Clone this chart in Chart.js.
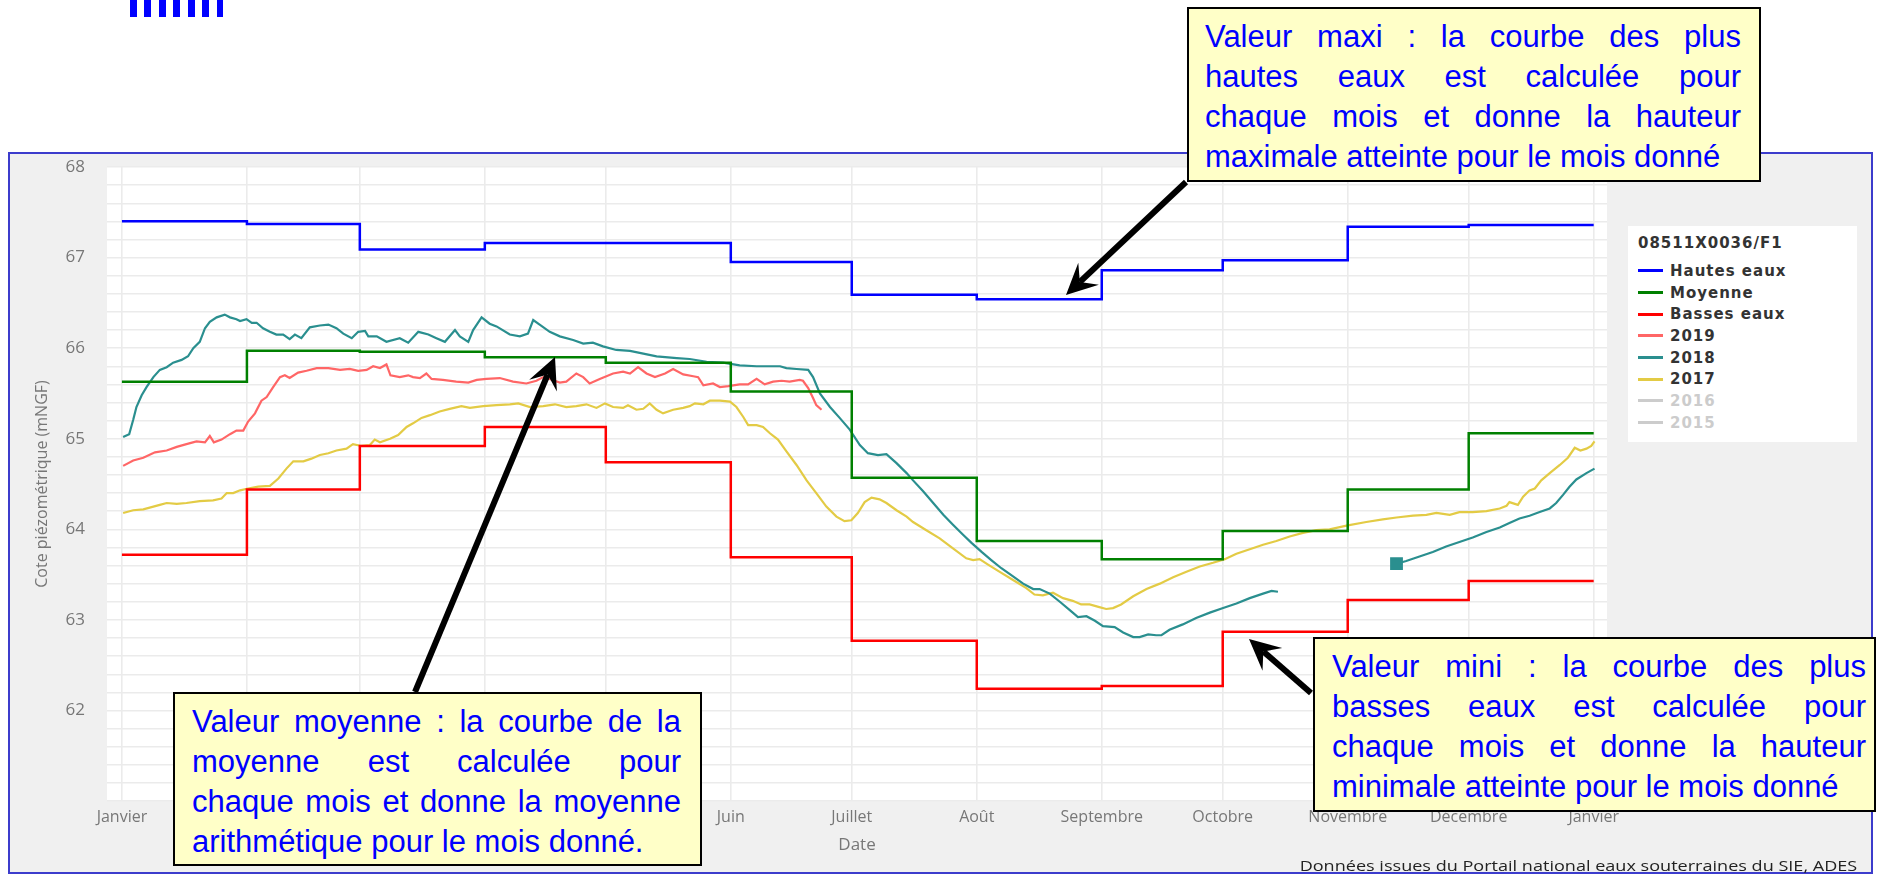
<!DOCTYPE html>
<html>
<head>
<meta charset="utf-8">
<title>Cote piézométrique 08511X0036/F1</title>
<script src="https://cdn.jsdelivr.net/npm/chart.js@4.4.0/dist/chart.umd.min.js"></script>
<style>
html, body { margin: 0; padding: 0; background: #fff; width: 1883px; height: 874px; overflow: hidden; position: relative; font-family: 'Open Sans', sans-serif; }
#topmark { position: absolute; left: 130px; top: 0; width: 94px; height: 17px;
  background: repeating-linear-gradient(90deg, #0000ff 0 6.7px, transparent 6.7px 14.45px); }
#frame { position: absolute; left: 8px; top: 152px; width: 1865px; height: 722px; box-sizing: border-box;
  border: 2px solid #3c3ccc; background: #f0f0f0; }
#chart { position: absolute; left: 0; top: 0; }
#legend { position: absolute; left: 1628px; top: 226px; width: 229px; height: 216px; background: #fff;
  box-sizing: border-box; padding: 8px 0 0 10px; font-family: 'DejaVu Sans', sans-serif; font-weight: bold;
  font-size: 15px; letter-spacing: 1px; color: #333; }
#legend .title { height: 18px; line-height: 18px; margin-bottom: 8px; }
#legend .item { height: 21.7px; display: flex; align-items: center; }
#legend .swatch { width: 25px; height: 3px; margin-right: 7px; }
#source { position: absolute; right: 26px; top: 857px; font-size: 14px; line-height: 18px; color: #222; white-space: nowrap;
  transform: scaleX(1.29); transform-origin: right center; }
#arrows { position: absolute; left: 0; top: 0; }
.note { position: absolute; box-sizing: border-box; border: 2px solid #000; background: #ffffc8; color: #0000ff;
  font-family: 'Liberation Sans', Arial, sans-serif; font-size: 31px; line-height: 40px; padding-top: 8px; }
.note div { text-align: justify; text-align-last: justify; white-space: nowrap; }
.note div:last-child { text-align: left; text-align-last: left; }
</style>
</head>
<body>
<div id="topmark"></div>
<div id="frame"></div>
<canvas id="chart" width="1883" height="874"></canvas>
<div id="legend"><div class="title">08511X0036/F1</div></div>
<div id="source">Données issues du Portail national eaux souterraines du SIE, ADES</div>

<svg id="arrows" width="1883" height="874"></svg>

<div class="note" style="left:1187px; top:7px; width:574px; height:175px; padding-left:16px; padding-right:18px;">
  <div>Valeur maxi : la courbe des plus</div>
  <div>hautes eaux est calculée pour</div>
  <div>chaque mois et donne la hauteur</div>
  <div>maximale atteinte pour le mois donné</div>
</div>
<div class="note" style="left:173px; top:692px; width:529px; height:174px; padding-left:17px; padding-right:19px;">
  <div>Valeur moyenne : la courbe de la</div>
  <div>moyenne est calculée pour</div>
  <div>chaque mois et donne la moyenne</div>
  <div>arithmétique pour le mois donné.</div>
</div>
<div class="note" style="left:1313px; top:637px; width:563px; height:175px; padding-left:17px; padding-right:8px;">
  <div>Valeur mini : la courbe des plus</div>
  <div>basses eaux est calculée pour</div>
  <div>chaque mois et donne la hauteur</div>
  <div>minimale atteinte pour le mois donné</div>
</div>

<script>
// mois (jours depuis le 1er janvier)
const monthLabels = ['Janvier', 'Février', 'Mars', 'Avril', 'Mai', 'Juin', 'Juillet', 'Août', 'Septembre', 'Octobre', 'Novembre', 'Décembre', 'Janvier'];
const monthStartDays = [0, 31, 59, 90, 120, 151, 181, 212, 243, 273, 304, 334, 365];

// valeurs mensuelles (mNGF)
const hautesEaux = [67.40, 67.37, 67.09, 67.16, 67.16, 66.95, 66.59, 66.54, 66.86, 66.97, 67.34, 67.36];
const moyenne    = [65.63, 65.97, 65.96, 65.90, 65.84, 65.52, 64.57, 63.87, 63.67, 63.98, 64.44, 65.06];
const bassesEaux = [63.72, 64.44, 64.92, 65.13, 64.74, 63.69, 62.77, 62.24, 62.27, 62.87, 63.22, 63.43];

// chroniques journalieres
const days2019 = [0.3, 2.8, 5.3, 8.2, 11.1, 13.6, 16.0, 18.5, 20.6, 21.8, 22.8, 24.7, 26.8, 28.4, 30.1, 31.3, 33.0, 34.6, 35.9, 37.5,
  39.2, 40.4, 41.6, 43.7, 45.8, 48.3, 51.2, 54.1, 56.5, 58.6, 60.7, 62.3, 64.0, 65.6, 66.6, 68.9, 71.0, 72.2, 73.9, 75.5,
  76.8, 79.6, 82.9, 85.9, 88.0, 90.4, 93.7, 97.0, 100.3, 102.8, 104.5, 106.1, 108.6, 110.2, 112.7, 114.4, 116.0, 118.5, 121.8, 124.3,
  126.0, 128.0, 130.1, 132.2, 134.7, 136.7, 139.2, 141.7, 142.9, 144.2, 146.6, 148.3, 150.4, 153.2, 155.3, 157.4, 159.4, 161.5, 163.6, 165.6,
  168.1, 168.9, 170.2, 171.4, 172.2, 173.5];
const cote2019 = [64.70, 64.76, 64.79, 64.85, 64.87, 64.91, 64.94, 64.97, 64.96, 65.03, 64.96, 64.99, 65.05, 65.09, 65.09, 65.19, 65.28, 65.42, 65.46, 65.57,
  65.68, 65.70, 65.67, 65.73, 65.75, 65.78, 65.78, 65.76, 65.77, 65.75, 65.76, 65.80, 65.78, 65.82, 65.70, 65.68, 65.70, 65.68, 65.67, 65.72,
  65.66, 65.65, 65.63, 65.62, 65.65, 65.66, 65.67, 65.63, 65.61, 65.64, 65.68, 65.66, 65.62, 65.63, 65.72, 65.68, 65.61, 65.66, 65.72, 65.74,
  65.72, 65.79, 65.72, 65.68, 65.72, 65.77, 65.71, 65.69, 65.68, 65.59, 65.61, 65.57, 65.58, 65.60, 65.60, 65.66, 65.60, 65.63, 65.64, 65.63,
  65.65, 65.64, 65.56, 65.45, 65.37, 65.32];

const days2018 = [0.3, 1.8, 2.8, 3.6, 4.9, 6.1, 7.8, 9.4, 11.1, 12.7, 14.8, 16.4, 17.7, 19.3, 20.6, 21.8, 23.5, 25.5, 26.8, 28.4,
  29.3, 30.9, 32.2, 33.4, 35.0, 36.7, 38.3, 40.0, 41.6, 42.9, 44.5, 46.6, 49.1, 51.2, 53.2, 54.9, 57.0, 58.6, 60.3, 61.1,
  63.2, 65.6, 68.9, 71.0, 73.5, 76.0, 78.0, 80.1, 82.6, 83.8, 85.9, 87.1, 89.2, 91.2, 92.9, 96.2, 98.7, 100.7, 102.0, 103.6,
  106.1, 108.6, 111.9, 114.4, 116.8, 119.3, 122.6, 126.0, 129.3, 132.6, 137.6, 140.8, 145.0, 149.1, 153.2, 157.4, 160.7, 163.2, 164.8, 167.3,
  170.2, 171.4, 173.1, 175.6, 178.0, 180.5, 183.0, 185.0, 187.5, 189.6, 192.1, 194.6, 196.2, 198.7, 201.2, 203.7, 206.1, 208.6, 210.7, 213.2,
  215.6, 218.1, 221.0, 223.5, 226.0, 227.6, 230.1, 232.6, 235.0, 237.1, 239.2, 241.3, 243.3, 246.2, 248.3, 250.8, 252.4, 254.5, 256.5, 257.8,
  259.8, 263.1, 266.4, 269.8, 273.1, 276.4, 279.7, 283.0, 285.1, 286.7, 300.0,
  316.1, 318.5, 321.8, 325.1, 328.4, 331.7, 335.0, 338.4, 341.7, 344.1, 346.6, 349.1, 351.6, 354.1, 355.7, 357.4, 359.0, 360.7, 363.2, 365.2];
const cote2018 = [65.02, 65.05, 65.21, 65.35, 65.48, 65.57, 65.68, 65.76, 65.79, 65.84, 65.87, 65.91, 66.00, 66.07, 66.22, 66.29, 66.34, 66.37, 66.34, 66.32,
  66.30, 66.32, 66.28, 66.28, 66.22, 66.18, 66.15, 66.15, 66.10, 66.15, 66.11, 66.23, 66.25, 66.26, 66.22, 66.16, 66.11, 66.18, 66.19, 66.13,
  66.13, 66.07, 66.11, 66.06, 66.18, 66.15, 66.11, 66.07, 66.20, 66.13, 66.07, 66.20, 66.34, 66.27, 66.24, 66.15, 66.13, 66.16, 66.31, 66.26,
  66.18, 66.13, 66.09, 66.05, 66.06, 66.02, 65.98, 65.97, 65.94, 65.91, 65.89, 65.88, 65.85, 65.84, 65.81, 65.80, 65.80, 65.80, 65.78, 65.77,
  65.76, 65.68, 65.50, 65.35, 65.23, 65.10, 64.93, 64.84, 64.82, 64.83, 64.73, 64.62, 64.54, 64.42, 64.29, 64.16, 64.05, 63.94, 63.85, 63.75,
  63.66, 63.57, 63.48, 63.40, 63.34, 63.34, 63.29, 63.20, 63.11, 63.03, 63.04, 62.99, 62.93, 62.92, 62.86, 62.81, 62.81, 62.84, 62.83, 62.83,
  62.89, 62.95, 63.02, 63.08, 63.13, 63.18, 63.24, 63.29, 63.32, 63.31, null,
  63.62, 63.65, 63.70, 63.75, 63.81, 63.86, 63.91, 63.97, 64.02, 64.07, 64.12, 64.15, 64.19, 64.23, 64.29, 64.38, 64.47, 64.55, 64.62, 64.67];

const days2017 = [0.3, 2.8, 5.3, 7.8, 9.4, 11.1, 13.6, 16.0, 19.3, 22.6, 24.7, 26.0, 27.6, 29.3, 31.3, 33.8, 36.7, 38.8, 40.8, 42.5,
  45.0, 47.0, 49.1, 51.2, 53.2, 55.7, 57.3, 59.4, 61.5, 62.7, 64.0, 66.5, 68.5, 70.6, 72.2, 74.3, 76.4, 78.8, 81.3, 84.2,
  86.3, 89.6, 92.9, 96.2, 98.3, 101.2, 104.5, 107.4, 110.2, 112.7, 115.2, 117.7, 119.8, 121.8, 124.3, 125.5, 127.6, 129.3, 130.9, 132.6,
  134.2, 136.7, 139.2, 140.8, 142.1, 144.2, 145.8, 148.3, 150.8, 152.4, 154.1, 155.3, 157.4, 159.0, 160.7, 162.7, 164.8, 167.3, 169.8, 172.2,
  174.7, 177.2, 179.2, 180.9, 182.5, 184.2, 185.9, 187.9, 189.6, 192.1, 194.6, 196.2, 199.5, 202.8, 206.1, 209.4, 211.1, 212.7, 214.8, 217.7,
  221.0, 224.3, 226.3, 228.4, 230.9, 233.4, 235.8, 237.9, 240.0, 242.4, 244.1, 245.8, 247.8, 250.8, 254.1, 257.4, 260.7, 264.0, 267.3, 270.6,
  273.5, 276.4, 279.7, 283.0, 286.3, 289.6, 292.9, 296.2, 299.5, 303.7, 308.6, 312.7, 316.1, 320.2, 323.5, 326.0, 329.3, 331.7, 335.0, 338.4,
  341.7, 343.4, 344.1, 346.2, 347.5, 349.1, 350.4, 352.0, 354.1, 356.6, 358.6, 360.3, 361.7, 363.2, 364.4, 365.2];
const cote2017 = [64.18, 64.21, 64.22, 64.25, 64.27, 64.29, 64.28, 64.29, 64.31, 64.32, 64.34, 64.40, 64.40, 64.43, 64.45, 64.47, 64.48, 64.56, 64.67, 64.75,
  64.75, 64.78, 64.82, 64.84, 64.87, 64.89, 64.94, 64.92, 64.93, 64.99, 64.96, 65.00, 65.04, 65.13, 65.17, 65.23, 65.26, 65.30, 65.33, 65.36,
  65.34, 65.36, 65.37, 65.38, 65.39, 65.35, 65.36, 65.38, 65.35, 65.36, 65.38, 65.34, 65.39, 65.35, 65.34, 65.37, 65.32, 65.33, 65.39, 65.32,
  65.28, 65.32, 65.34, 65.36, 65.39, 65.38, 65.42, 65.42, 65.41, 65.35, 65.24, 65.15, 65.15, 65.13, 65.06, 64.99, 64.86, 64.71, 64.54, 64.40,
  64.25, 64.14, 64.09, 64.10, 64.18, 64.30, 64.35, 64.33, 64.29, 64.21, 64.14, 64.08, 63.99, 63.90, 63.79, 63.68, 63.66, 63.67, 63.61, 63.53,
  63.44, 63.35, 63.28, 63.27, 63.30, 63.24, 63.21, 63.17, 63.17, 63.14, 63.12, 63.13, 63.17, 63.26, 63.34, 63.40, 63.47, 63.53, 63.59, 63.63,
  63.67, 63.73, 63.78, 63.83, 63.87, 63.92, 63.96, 63.99, 64.00, 64.04, 64.08, 64.11, 64.13, 64.15, 64.16, 64.18, 64.16, 64.19, 64.19, 64.20,
  64.23, 64.26, 64.30, 64.27, 64.36, 64.43, 64.45, 64.54, 64.62, 64.71, 64.79, 64.90, 64.87, 64.89, 64.92, 64.97];

function stepPoints(vals) {
  return monthStartDays.map((d, i) => ({ x: d, y: vals[Math.min(i, vals.length - 1)] }));
}
function curvePoints(days, vals) {
  return days.map((d, i) => ({ x: d, y: vals[i] }));
}

Chart.defaults.font.family = "'Open Sans', sans-serif";
Chart.defaults.color = '#777';

const whitePanel = {
  id: 'whitePanel',
  beforeDraw(chart) {
    const a = chart.chartArea;
    chart.ctx.save();
    chart.ctx.fillStyle = '#ffffff';
    chart.ctx.fillRect(a.left, a.top, a.right - a.left, a.bottom - a.top);
    chart.ctx.restore();
  }
};

const chart = new Chart(document.getElementById('chart').getContext('2d'), {
  type: 'line',
  data: {
    datasets: [
      { label: 'Hautes eaux', data: stepPoints(hautesEaux), borderColor: '#0000ff', borderWidth: 2.5, stepped: 'before', pointRadius: 0 },
      { label: 'Moyenne', data: stepPoints(moyenne), borderColor: '#008000', borderWidth: 2.5, stepped: 'before', pointRadius: 0 },
      { label: 'Basses eaux', data: stepPoints(bassesEaux), borderColor: '#ff0000', borderWidth: 2.5, stepped: 'before', pointRadius: 0 },
      { label: '2019', data: curvePoints(days2019, cote2019), borderColor: '#ff6666', borderWidth: 2.2, pointRadius: 0 },
      { label: '2018', data: curvePoints(days2018, cote2018), borderColor: '#2a8f8f', backgroundColor: '#2a8f8f', borderWidth: 2.2,
        pointStyle: 'rect', pointBackgroundColor: '#2a8f8f', pointBorderColor: '#2a8f8f',
        pointRadius: c => (c.dataIndex > 0 && cote2018[c.dataIndex - 1] === null) ? 7.5 : 0 },
      { label: '2017', data: curvePoints(days2017, cote2017), borderColor: '#e3cb45', borderWidth: 2.2, pointRadius: 0 },
      { label: '2016', data: [], borderColor: '#cccccc', hidden: true, pointRadius: 0 },
      { label: '2015', data: [], borderColor: '#cccccc', hidden: true, pointRadius: 0 }
    ]
  },
  options: {
    responsive: false,
    animation: false,
    layout: { padding: { top: 167, right: 276, bottom: 0, left: 0 } },
    plugins: { legend: { display: false }, tooltip: { enabled: false } },
    scales: {
      x: {
        type: 'linear', min: -3.7, max: 368.3,
        afterBuildTicks: s => { s.ticks = monthStartDays.map(v => ({ value: v })); },
        afterFit: s => { s.height = 73; },
        ticks: { autoSkip: false, maxRotation: 0, padding: 7, color: '#777', font: { size: 16 },
          callback: (v, i) => monthLabels[i] },
        grid: { color: '#ebebeb', lineWidth: 1.6, drawTicks: false },
        border: { display: false },
        title: { display: true, text: 'Date', color: '#777', font: { size: 17 }, padding: { top: 0, bottom: 19 } }
      },
      y: {
        min: 61, max: 68,
        afterFit: s => { s.width = 107; },
        ticks: { stepSize: 0.2, autoSkip: false, padding: 22, color: '#777', font: { size: 17 },
          callback: v => (Math.abs(v - Math.round(v)) < 1e-6 && v > 61.5) ? String(Math.round(v)) : '' },
        grid: { color: '#ebebeb', lineWidth: 1.4, drawTicks: false },
        border: { display: false },
        title: { display: true, text: 'Cote piézométrique (mNGF)', color: '#777', font: { size: 16 }, padding: { top: 33, bottom: 0 } }
      }
    }
  },
  plugins: [whitePanel]
});

// legende construite a partir des jeux de donnees
const legendBox = document.getElementById('legend');
chart.data.datasets.forEach(ds => {
  const row = document.createElement('div');
  row.className = 'item';
  const sw = document.createElement('span');
  sw.className = 'swatch';
  sw.style.background = ds.hidden ? '#cccccc' : ds.borderColor;
  row.appendChild(sw);
  row.appendChild(document.createTextNode(ds.label));
  if (ds.hidden) row.style.color = '#cccccc';
  legendBox.appendChild(row);
});

// fleches des annotations
const arrows = [
  { from: [1186, 182], to: [1066, 295] },
  { from: [415, 692], to: [555, 357] },
  { from: [1311, 693], to: [1249, 639] }
];
const svg = document.getElementById('arrows');
arrows.forEach(a => {
  const dx = a.to[0] - a.from[0], dy = a.to[1] - a.from[1];
  const len = Math.hypot(dx, dy);
  const ux = dx / len, uy = dy / len, nx = -uy, ny = ux;
  const L = 31, W = 15, N = 19;
  const t = a.to;
  const line = document.createElementNS('http://www.w3.org/2000/svg', 'line');
  line.setAttribute('x1', a.from[0]); line.setAttribute('y1', a.from[1]);
  line.setAttribute('x2', t[0] - N * ux); line.setAttribute('y2', t[1] - N * uy);
  line.setAttribute('stroke', '#000'); line.setAttribute('stroke-width', 6);
  svg.appendChild(line);
  const head = document.createElementNS('http://www.w3.org/2000/svg', 'polygon');
  const pts = [
    [t[0], t[1]],
    [t[0] - L * ux + W * nx, t[1] - L * uy + W * ny],
    [t[0] - N * ux, t[1] - N * uy],
    [t[0] - L * ux - W * nx, t[1] - L * uy - W * ny]
  ];
  head.setAttribute('points', pts.map(p => p.join(',')).join(' '));
  head.setAttribute('fill', '#000');
  svg.appendChild(head);
});
</script>
</body>
</html>
